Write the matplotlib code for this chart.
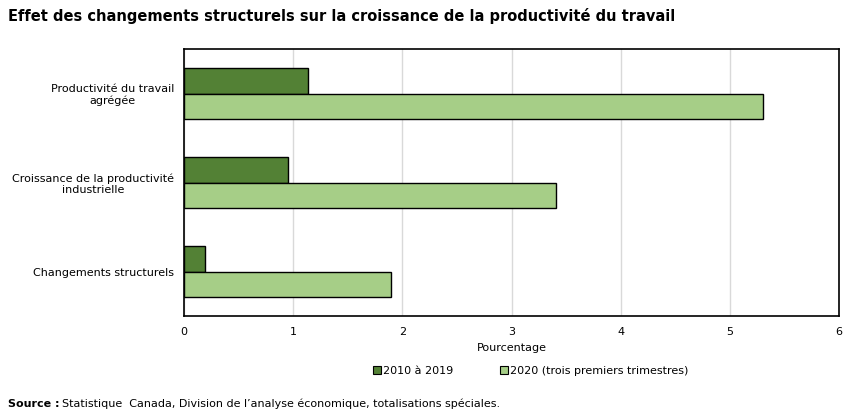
import matplotlib
matplotlib.use("Agg")
import matplotlib.pyplot as plt
from matplotlib.patches import Patch
import numpy as np

categories = ["Productivité du travail\nagrégée",
              "Croissance de la productivité\nindustrielle",
              "Changements structurels"]
series_2010_2019 = [1.14, 0.95, 0.19]
series_2020 = [5.30, 3.41, 1.90]
series_names = ["2010 à 2019", "2020 (trois premiers trimestres)"]
xticks = [0, 1, 2, 3, 4, 5, 6]

dark = "#538135"
light = "#a6ce87"

plt.rcParams['font.family'] = ['DejaVu Sans']
fig = plt.figure(figsize=(8.51, 4.17), dpi=100)
W, H = 851, 417
left, right, top, bottom = 184, 839, 49, 316
ax = fig.add_axes([left / W, 1 - bottom / H, (right - left) / W, (bottom - top) / H])

y = np.arange(len(categories))
h = 0.29
ax.barh(y - h / 2, series_2010_2019, height=h, color=dark, edgecolor="black", linewidth=1, zorder=3)
ax.barh(y + h / 2, series_2020, height=h, color=light, edgecolor="black", linewidth=1, zorder=3)

ax.set_ylim(len(categories) - 0.5, -0.5)
ax.set_xlim(0, 6)
ax.set_xticks(xticks)
ax.set_xticklabels([str(t) for t in xticks], fontsize=8)
ax.set_yticks(y)
ax.set_yticklabels(categories, fontsize=8, linespacing=1.15)
for lab in ax.get_yticklabels():
    lab.set_horizontalalignment("right")
    lab.set_multialignment("center")
ax.tick_params(axis="y", length=0, pad=7)
ax.tick_params(axis="x", length=0, pad=8)
ax.xaxis.grid(True, color="#d9d9d9", linewidth=1, zorder=0)
ax.set_axisbelow(True)
for s in ax.spines.values():
    s.set_color("black")
    s.set_linewidth(1.2)
ax.set_xlabel("Pourcentage", fontsize=8, labelpad=4)

fig.text(8 / W, 1 - 16 / H, "Effet des changements structurels sur la croissance de la productivité du travail",
         fontsize=10.5, fontweight="bold", va="center", ha="left")

handles = [Patch(facecolor=dark, edgecolor="black", linewidth=0.8),
           Patch(facecolor=light, edgecolor="black", linewidth=0.8)]
fig.legend(handles, series_names, loc="center", bbox_to_anchor=((372 + 690) / 2 / W, 1 - 371 / H),
           ncol=2, frameon=False, fontsize=8, handlelength=0.7, handleheight=0.7,
           handletextpad=0.2, columnspacing=4.2)

fig.text(8 / W, 1 - 404 / H, "Source :", fontsize=8, fontweight="bold", va="center", ha="left")
fig.text(62 / W, 1 - 404 / H, "Statistique  Canada, Division de l’analyse économique, totalisations spéciales.",
         fontsize=8, va="center", ha="left")

fig.savefig("out.png", dpi=100)
